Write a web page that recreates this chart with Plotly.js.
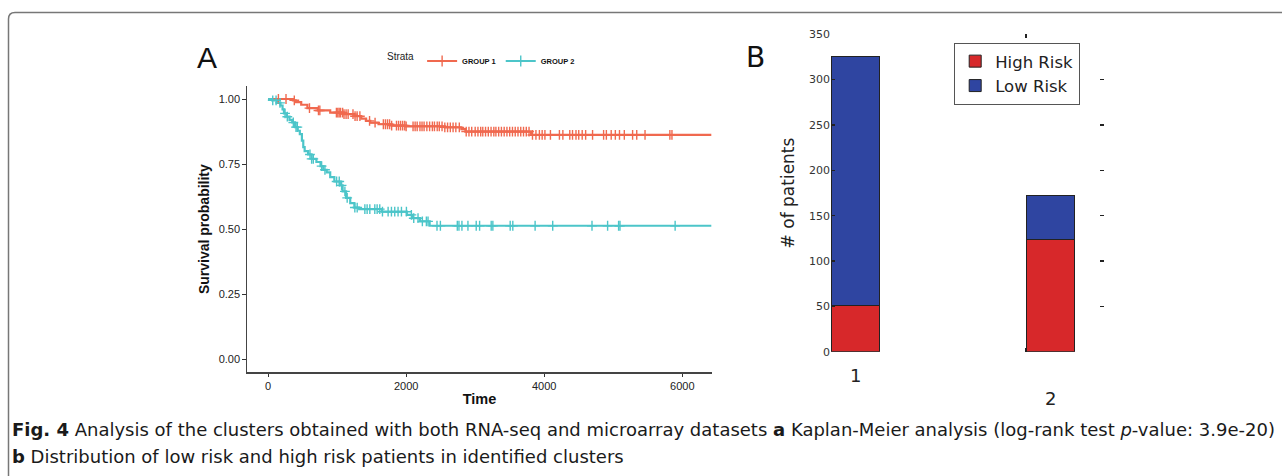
<!DOCTYPE html>
<html>
<head>
<meta charset="utf-8">
<script src="https://cdn.plot.ly/plotly-3.0.1.min.js"></script>
<style>html,body{margin:0;padding:0;background:#fff;}#chart{width:1282px;height:476px;}</style>
</head>
<body>
<div id="chart"></div>
<script>
// ---- Panel A: Kaplan-Meier step curves (time, survival) ----
const g1Time = [0,360,400,480,570,720,900,1100,1250,1350,1420,1480,1600,1790,2000,2560,2800,2860,3810,6420];
const g1Surv = [1.0,0.995,0.988,0.978,0.965,0.956,0.948,0.942,0.934,0.925,0.916,0.909,0.903,0.898,0.895,0.891,0.884,0.875,0.862,0.862];
const g1Censor = [150,260,380,600,730,750,990,1010,1030,1050,1080,1100,1130,1160,1230,1260,1290,1330,1470,1550,1670,1700,1730,1760,1790,1860,1890,1920,1950,1980,2000,2100,2130,2160,2200,2230,2260,2300,2340,2380,2410,2450,2480,2520,2560,2600,2640,2680,2720,2770,2870,2910,2950,3000,3040,3080,3110,3150,3190,3230,3270,3300,3340,3380,3420,3460,3500,3540,3580,3620,3660,3700,3740,3780,3830,3880,3930,3970,4010,4090,4220,4270,4370,4410,4460,4500,4550,4600,4700,4860,4900,4970,5030,5090,5160,5280,5340,5460,5820,5850];

const g2Time = [0,60,130,180,210,230,270,310,350,390,430,460,490,510,530,580,630,700,760,800,850,900,960,1040,1080,1130,1190,1250,1320,1650,2010,2090,2200,2340,6420];
const g2Surv = [1.0,0.995,0.985,0.975,0.960,0.945,0.932,0.920,0.910,0.892,0.878,0.865,0.840,0.815,0.800,0.787,0.770,0.758,0.742,0.728,0.718,0.700,0.683,0.668,0.645,0.620,0.600,0.583,0.577,0.567,0.555,0.542,0.530,0.513,0.513];
const g2Censor = [68,116,173,246,279,366,405,424,607,631,655,776,824,993,1031,1065,1113,1146,1257,1291,1402,1435,1474,1546,1580,1618,1657,1739,1787,1835,1883,1932,2004,2076,2110,2172,2235,2293,2317,2447,2496,2741,2765,2808,2895,3015,3064,3232,3256,3507,3545,3868,4123,4692,4918,5077,5097,5896];

const strata = ['GROUP 1','GROUP 2'];
const yTicksA = [0, 0.25, 0.5, 0.75, 1.0];
const xTicksA = [0, 2000, 4000, 6000];

// ---- Panel B: patients per cluster ----
const clusters = ['1','2'];
const clusterPos = [0, 1];
const highRisk = [51, 124];
const lowRisk = [275, 48];
const riskNames = ['High Risk','Low Risk'];

const C1 = '#F0694F', C2 = '#4CC5C9';
const RED = '#D7282A', BLUE = '#2F45A1';

function stepAt(times, surv, t){
  let v = surv[0];
  for (let i=0;i<times.length;i++){ if (times[i] <= t) v = surv[i]; else break; }
  return v;
}

const W = 1282, H = 476;
const px = x => x / W;
const py = y => 1 - y / H;

const traces = [
  {x:g1Time, y:g1Surv, type:'scatter', mode:'lines', line:{color:C1, width:2.2, shape:'hv'}, showlegend:false, xaxis:'x', yaxis:'y', hoverinfo:'skip'},
  {x:g2Time, y:g2Surv, type:'scatter', mode:'lines', line:{color:C2, width:2.2, shape:'hv'}, showlegend:false, xaxis:'x', yaxis:'y', hoverinfo:'skip'},
  {x:g1Censor, y:g1Censor.map(t=>stepAt(g1Time,g1Surv,t)), type:'scatter', mode:'markers',
   marker:{symbol:'cross-thin', size:7, color:C1, line:{color:C1, width:1.4}}, showlegend:false, xaxis:'x', yaxis:'y'},
  {x:g2Censor, y:g2Censor.map(t=>stepAt(g2Time,g2Surv,t)), type:'scatter', mode:'markers',
   marker:{symbol:'cross-thin', size:7, color:C2, line:{color:C2, width:1.4}}, showlegend:false, xaxis:'x', yaxis:'y'},
  {x:[null], y:[null], name:strata[0], type:'scatter', mode:'lines+markers', line:{color:C1,width:2},
   marker:{symbol:'cross-thin', size:8, color:C1, line:{color:C1,width:1.4}}, legend:'legend', xaxis:'x', yaxis:'y'},
  {x:[null], y:[null], name:strata[1], type:'scatter', mode:'lines+markers', line:{color:C2,width:2},
   marker:{symbol:'cross-thin', size:8, color:C2, line:{color:C2,width:1.4}}, legend:'legend', xaxis:'x', yaxis:'y'},
  {x:clusterPos, y:highRisk, name:riskNames[0], type:'bar', width:0.25, offset:0,
   marker:{color:RED, line:{color:'#222', width:1}}, legend:'legend2', xaxis:'x2', yaxis:'y2'},
  {x:clusterPos, y:lowRisk, name:riskNames[1], type:'bar', width:0.25, offset:0,
   marker:{color:BLUE, line:{color:'#222', width:1}}, legend:'legend2', xaxis:'x2', yaxis:'y2'}
];

const fA = 'Liberation Sans, Arial, Helvetica, sans-serif';
const fB = 'DejaVu Sans, sans-serif';
const fCap = 'DejaVu Sans, sans-serif';

const borderPath = `M ${px(1300)} ${py(12.5)} L ${px(15)} ${py(12.5)} Q ${px(8.5)} ${py(12.5)} ${px(8.5)} ${py(19)} L ${px(8.5)} ${py(490)}`;

const layout = {
  width: W, height: H,
  margin:{l:0,r:0,t:0,b:0,pad:0},
  paper_bgcolor:'#fff', plot_bgcolor:'rgba(0,0,0,0)',
  barmode:'stack',
  showlegend:true,
  xaxis:{domain:[px(247), px(712)], range:[-305, 6430], tickvals:xTicksA, ticks:'outside', ticklen:3.5, tickwidth:1, tickcolor:'#333',
    showline:true, linecolor:'#444', linewidth:1.2, showgrid:false, zeroline:false,
    tickfont:{family:fA, size:11, color:'#222'},
    title:{text:'Time', font:{family:fA, size:14.5, color:'#111', weight:'bold'}, standoff:2}, anchor:'y'},
  yaxis:{domain:[py(372.3), py(86)], range:[-0.05, 1.05], tickvals:yTicksA, tickformat:'.2f', ticks:'outside', ticklen:3.5, tickwidth:1, tickcolor:'#333',
    showline:true, linecolor:'#444', linewidth:1.2, showgrid:false, zeroline:false,
    tickfont:{family:fA, size:11, color:'#222'},
    title:{text:'Survival probability', font:{family:fA, size:14, color:'#111', weight:'bold'}, standoff:5}, anchor:'x'},
  xaxis2:{domain:[px(831), px(1104)], range:[0, 1.4], tickvals:clusterPos, showticklabels:false, ticks:'inside', ticklen:4, tickwidth:1.2, tickcolor:'#222',
    mirror:'ticks', showline:false, showgrid:false, zeroline:false, anchor:'y2'},
  yaxis2:{domain:[py(351.7), py(34.3)], range:[0, 350], dtick:50, ticks:'inside', ticklen:4, tickwidth:1.2, tickcolor:'#222',
    mirror:'ticks', showline:false, showgrid:false, zeroline:false,
    tickfont:{family:fB, size:11, color:'#333'},
    title:{text:'# of patients', font:{family:fB, size:17, color:'#222'}, standoff:10}, anchor:'x2'},
  legend:{orientation:'h', x:px(385), xanchor:'left', y:py(61), yanchor:'middle', bgcolor:'rgba(0,0,0,0)',
    title:{text:'Strata', side:'left', font:{family:fA, size:10, color:'#222', weight:'normal'}},
    font:{family:fA, size:7.5, color:'#111', weight:'bold'}, itemwidth:30, tracegroupgap:0},
  legend2:{orientation:'v', x:px(954), xanchor:'left', y:py(42.7), yanchor:'top', traceorder:'normal',
    bgcolor:'#fff', bordercolor:'#555', borderwidth:1.2,
    font:{family:fB, size:16.5, color:'#222'}},
  annotations:[
    {text:'A', xref:'paper', yref:'paper', x:px(207), y:py(57), xanchor:'center', yanchor:'middle', showarrow:false,
     font:{family:fA, size:30, color:'#111'}},
    {text:'B', xref:'paper', yref:'paper', x:px(755), y:py(57), xanchor:'center', yanchor:'middle', showarrow:false,
     font:{family:fB, size:28, color:'#111'}},
    {text:clusters[0], xref:'x2', yref:'paper', x:clusterPos[0]+0.125, y:py(375), xanchor:'center', yanchor:'middle', showarrow:false,
     font:{family:fB, size:18, color:'#222'}},
    {text:clusters[1], xref:'x2', yref:'paper', x:clusterPos[1]+0.125, y:py(398), xanchor:'center', yanchor:'middle', showarrow:false,
     font:{family:fB, size:18, color:'#222'}},
    {text:'<b>Fig. 4</b> Analysis of the clusters obtained with both RNA-seq and microarray datasets <b>a</b> Kaplan-Meier analysis (log-rank test <i>p</i>-value: 3.9e-20)',
     xref:'paper', yref:'paper', x:px(10), y:py(429), xanchor:'left', yanchor:'middle', showarrow:false,
     font:{family:fCap, size:18, color:'#1a1a1a'}},
    {text:'<b>b</b> Distribution of low risk and high risk patients in identified clusters',
     xref:'paper', yref:'paper', x:px(10), y:py(456), xanchor:'left', yanchor:'middle', showarrow:false,
     font:{family:fCap, size:18, color:'#1a1a1a'}}
  ],
  shapes:[
    {type:'path', xref:'paper', yref:'paper', path:borderPath, line:{color:'#777', width:1.5}, layer:'below'}
  ]
};

Plotly.newPlot('chart', traces, layout, {displayModeBar:false, staticPlot:true});
</script>
</body>
</html>
